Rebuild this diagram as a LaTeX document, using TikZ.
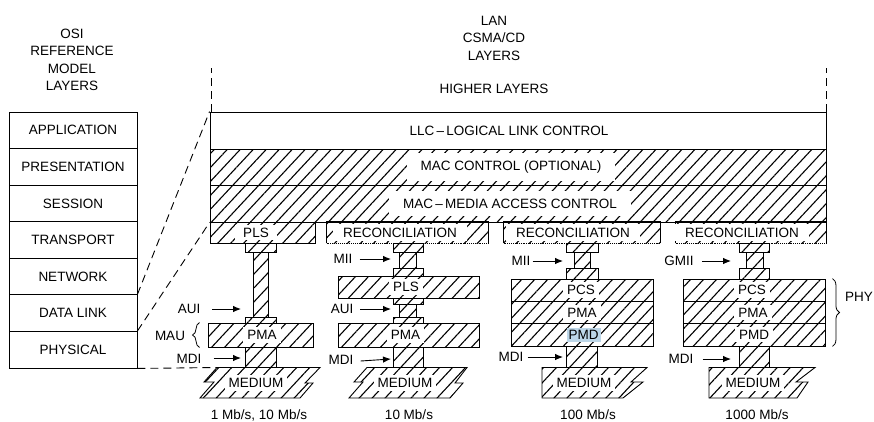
\documentclass[tikz,border=0pt]{standalone}
\usepackage{fontspec}
\setmainfont{Liberation Sans}
\usetikzlibrary{arrows.meta, patterns.meta, decorations.pathreplacing}
\definecolor{pmdhl}{HTML}{BCD6E8}
\tikzset{
  osibox/.style={draw, line width=0.9pt, minimum width=128pt, minimum height=36.57pt, inner sep=0pt},
  plain/.style={draw, line width=0.9pt, inner sep=0pt},
  hatch/.style={draw, line width=0.9pt, inner sep=0pt,
    pattern={Lines[angle=47, distance=9.5pt, line width=1.1pt]}},
  blk/.style 2 args={hatch, minimum width=#1, minimum height=#2},
  tag/.style={fill=white, inner xsep=4pt, inner ysep=3pt},
  wide/.style={fill=white, inner xsep=14pt, inner ysep=8pt},
  txt/.style={inner sep=1pt},
  arr/.style={-{Latex[length=8pt, width=6.5pt]}, line width=0.9pt},
  guide/.style={line width=0.9pt, dash pattern=on 8pt off 5pt},
  curly/.style={line width=0.8pt, decorate, decoration={brace, amplitude=7pt}}
}
\begin{document}
\begin{tikzpicture}[x=1pt, y=-1pt, font=\fontsize{13.5}{17.5}\selectfont]
  \useasboundingbox (0,0) rectangle (874,421);

  % OSI reference model
  \node[txt, align=center] (osititle) at (72,60) {OSI\\REFERENCE\\MODEL\\LAYERS};
  \foreach \lay [count=\i] in {APPLICATION, PRESENTATION, SESSION, TRANSPORT, NETWORK, DATA LINK, PHYSICAL}
    \node[osibox] (osi\i) at (73,{112+36.57*(\i-0.5)}) {\lay};

  % LAN CSMA/CD layers
  \node[txt, align=center] (lantitle) at (494,38) {LAN\\CSMA/CD\\LAYERS};
  \node[txt] (higher) at (494,89) {HIGHER LAYERS};
  \node[plain, minimum width=616pt, minimum height=37pt] (llc) at (518,130.5) {};
  \node[txt] (llct) at (509,130.5) {LLC\,--\,LOGICAL LINK CONTROL};
  \node[blk={616pt}{36pt}] (macc) at (518,167) {};
  \node[wide] (macct) at (511,167) {MAC CONTROL (OPTIONAL)};
  \node[blk={616pt}{37pt}] (mac) at (518,203.5) {};
  \node[wide] (mact) at (510,203.5) {MAC\,--\,MEDIA ACCESS CONTROL};

  \draw[guide] ([xshift=2pt]llc.north west) -- ++(0,-44);
  \draw[guide] (llc.north east) -- ++(0,-44);
  \draw[guide] (osi6.north east) -- (llc.north west);
  \draw[guide] (osi7.north east) -- (mac.south west);
  \coordinate (med1nw) at (217,367.5);
  \draw[guide] (osi7.south east) -- (med1nw);

  % sublayer row
  \node[blk={105pt}{21pt}] (pls1) at (262.5,232.5) {};
  \node[tag, inner xsep=8pt] (pls1t) at (256,232.5) {PLS};
  \foreach \c/\x/\w/\t in {2/407.5/161/400, 3/582/156/573, 4/751/150/742}{
    \node[blk={\w pt}{21pt}, draw=none] (rec\c) at (\x,232.5) {};
    \draw[line width=0.9pt] (rec\c.south west) -- (rec\c.north west) -- (rec\c.north east) -- (rec\c.south east);
    \draw[line width=0.9pt, densely dotted] (rec\c.south west) -- (rec\c.south east);
    \node[tag, inner xsep=10pt, inner ysep=4pt] (rec\c t) at (\t,232.5) {RECONCILIATION};
  }

  % 1 Mb/s, 10 Mb/s
  \node[blk={31pt}{9pt}] (ta1) at (260.5,247.5) {};
  \node[blk={15pt}{65pt}] (bar1) at (260.5,284.5) {};
  \node[blk={31pt}{6pt}] (tb1) at (260.5,320) {};
  \node[blk={105pt}{24pt}] (pma1) at (260.5,335) {};
  \node[tag] (pma1t) at (262,335) {PMA};
  \node[blk={31pt}{20pt}] (mdi1) at (260.5,357) {};
  \draw[hatch] (med1nw) -- (204,382) -- (214,382) -- (200,398) -- (300,398)
    -- (313,383) -- (305,383) -- (320,367.5) -- cycle;
  \node[tag] (med1) at (256,383) {MEDIUM};
  \node[txt] (aui1) at (189,309) {AUI};
  \coordinate (aui1p) at (241,309);
  \draw[arr] ([xshift=11pt]aui1.east) -- (aui1p);
  \node[txt] (mau1) at (170,336) {MAU};
  \draw[curly] ([xshift=-8pt]pma1.south west) -- ([xshift=-8pt]pma1.north west);
  \node[txt] (mdil1) at (189,359) {MDI};
  \coordinate (mdi1p) at (241,358);
  \draw[arr] ([xshift=11pt,yshift=1pt]mdil1.east) -- (mdi1p);
  \node[txt] (spd1) at (259,415) {1 Mb/s, 10 Mb/s};

  % 10 Mb/s
  \node[blk={30pt}{9pt}] (ta2) at (408,247.5) {};
  \node[blk={17pt}{16pt}] (bar2a) at (407.5,260) {};
  \node[blk={30pt}{8pt}] (tb2) at (408,272) {};
  \node[blk={141pt}{22pt}] (pls2) at (408.5,287) {};
  \node[tag] (pls2t) at (406,287) {PLS};
  \node[blk={30pt}{6pt}] (tc2) at (408,301) {};
  \node[blk={17pt}{13pt}] (bar2b) at (407.5,310.5) {};
  \node[blk={30pt}{6pt}] (td2) at (408,320) {};
  \node[blk={141pt}{24pt}] (pma2) at (408.5,335) {};
  \node[tag] (pma2t) at (405.5,335) {PMA};
  \node[blk={30pt}{20pt}] (mdi2) at (408,357) {};
  \draw[hatch] (367,367.5) -- (354,382) -- (363,382) -- (349,398) -- (450,398)
    -- (463,383) -- (455,383) -- (467,367.5) -- cycle;
  \node[tag] (med2) at (405,383) {MEDIUM};
  \node[txt] (mii2) at (343,259) {MII};
  \coordinate (mii2p) at (391,259);
  \draw[arr] ([xshift=6pt]mii2.east) -- (mii2p);
  \node[txt] (aui2) at (342,309) {AUI};
  \coordinate (aui2p) at (391,309);
  \draw[arr] ([xshift=6pt]aui2.east) -- (aui2p);
  \node[txt] (mdil2) at (341,360) {MDI};
  \coordinate (mdi2p) at (391,359);
  \draw[arr] ([xshift=6pt,yshift=-1pt]mdil2.east) -- (mdi2p);
  \node[txt] (spd2) at (409,415) {10 Mb/s};

  % 100 Mb/s
  \node[blk={32pt}{9pt}] (ta3) at (582,247.5) {};
  \node[blk={16pt}{16pt}] (bar3) at (582,260) {};
  \node[blk={32pt}{11pt}] (tb3) at (582,273.5) {};
  \node[blk={142pt}{22.33pt}] (pcs3) at (582,290.17) {};
  \node[blk={142pt}{22.33pt}] (pma3) at (582,312.5) {};
  \node[blk={142pt}{22.33pt}] (pmd3) at (582,334.83) {};
  \node[tag] (pcs3t) at (581,290.17) {PCS};
  \node[tag] (pma3t) at (582,312.5) {PMA};
  \node[tag, fill=pmdhl, inner xsep=2pt, inner ysep=2.5pt] (pmd3t) at (583.5,334.83) {PMD};
  \node[blk={31pt}{21pt}] (mdi3) at (582,356.5) {};
  \draw[hatch] (542,367.5) -- (542,398) -- (623,398) -- (643,382) -- (631,382)
    -- (647,367.5) -- cycle;
  \node[tag] (med3) at (584,383) {MEDIUM};
  \node[txt] (mii3) at (521,261) {MII};
  \coordinate (mii3p) at (563,261);
  \draw[arr] ([xshift=1pt]mii3.east) -- (mii3p);
  \node[txt] (mdil3) at (511,357) {MDI};
  \coordinate (mdi3p) at (563,357);
  \draw[arr] ([xshift=3pt]mdil3.east) -- (mdi3p);
  \node[txt] (spd3) at (588,415) {100 Mb/s};

  % 1000 Mb/s
  \node[blk={30pt}{9pt}] (ta4) at (754,247.5) {};
  \node[blk={17pt}{16pt}] (bar4) at (754.5,260) {};
  \node[blk={30pt}{11pt}] (tb4) at (754,273.5) {};
  \node[blk={142pt}{22.33pt}] (pcs4) at (754,290.17) {};
  \node[blk={142pt}{22.33pt}] (pma4) at (754,312.5) {};
  \node[blk={142pt}{22.33pt}] (pmd4) at (754,334.83) {};
  \node[tag] (pcs4t) at (752,290.17) {PCS};
  \node[tag] (pma4t) at (753,312.5) {PMA};
  \node[tag] (pmd4t) at (754,334.83) {PMD};
  \node[blk={30pt}{21pt}] (mdi4) at (754,356.5) {};
  \draw[hatch] (709,367.5) -- (709,398) -- (797,398) -- (808,382) -- (796,382)
    -- (815,367.5) -- cycle;
  \node[tag] (med4) at (753,383) {MEDIUM};
  \node[txt] (gmii4) at (679,261) {GMII};
  \coordinate (gmii4p) at (731,261);
  \draw[arr] ([xshift=7pt]gmii4.east) -- (gmii4p);
  \node[txt] (mdil4) at (681,359) {MDI};
  \coordinate (mdi4p) at (731,359);
  \draw[arr] ([xshift=8pt]mdil4.east) -- (mdi4p);
  \node[txt] (spd4) at (757,415) {1000 Mb/s};
  \draw[curly] ([xshift=7pt]pcs4.north east) -- ([xshift=7pt]pmd4.south east);
  \node[anchor=west, inner sep=0pt] (phy) at (845,297) {PHY};
\end{tikzpicture}
\end{document}
